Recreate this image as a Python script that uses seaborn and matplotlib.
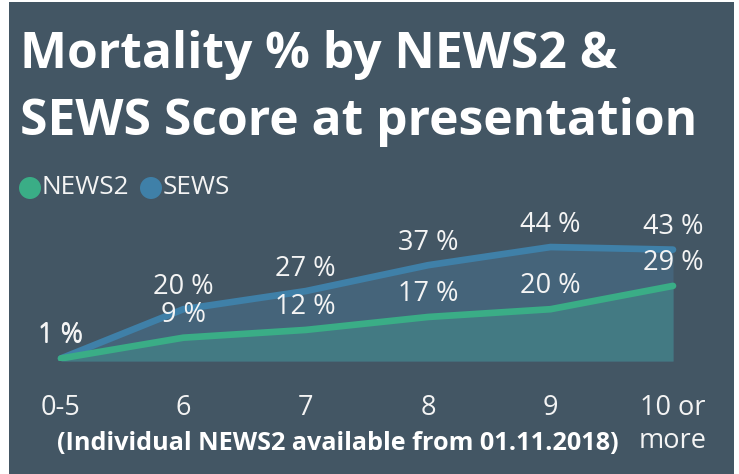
import matplotlib
matplotlib.use("Agg")
import matplotlib.pyplot as plt
import seaborn as sns
import pandas as pd
from matplotlib.patches import Rectangle, Ellipse

categories = ["0-5", "6", "7", "8", "9", "10 or\nmore"]
news2 = [1, 9, 12, 17, 20, 29]
sews = [1, 20, 27, 37, 44, 43]

title_lines = ["Mortality % by NEWS2 &", "SEWS Score at presentation"]
note = "(Individual NEWS2 available from 01.11.2018)"

BG = "#435664"
GREEN = "#3aad86"
BLUE = "#3f80a8"
SEWS_FILL = "#45647a"
NEWS_FILL = "#437a83"
TXT = "#f4f4f4"
FONT = ["Open Sans", "DejaVu Sans"]

sns.set_theme(style="white")
plt.rcParams["font.family"] = FONT

W, H = 739, 474
fig = plt.figure(figsize=(W / 100, H / 100), dpi=100)
fig.patch.set_facecolor("white")
fig.patches.append(Rectangle((9 / W, 0), (734 - 9) / W, (H - 2) / H,
                             transform=fig.transFigure, facecolor=BG,
                             edgecolor="none", zorder=-5))

# axes: baseline at y=361px, 2.59 px per % ; x=0 at 61px, spacing 122.4px
base_px, top_px = 361, 200
scale = 2.59
ax = fig.add_axes([0, (H - base_px) / H, 1, (base_px - top_px) / H])
ax.patch.set_alpha(0)
ax.set_zorder(2)
step = 122.4
ax.set_xlim(-61 / step, 5 + (W - 673) / step)
ax.set_ylim(0, (base_px - top_px) / scale)

df = pd.DataFrame({"x": list(range(len(categories))) * 2,
                   "val": sews + news2,
                   "series": ["SEWS"] * len(sews) + ["NEWS2"] * len(news2)})

x = list(range(len(categories)))
ax.fill_between(x, sews, 0, color=SEWS_FILL, lw=0, zorder=1)
ax.fill_between(x, news2, 0, color=NEWS_FILL, lw=0, zorder=2)
sns.lineplot(data=df, x="x", y="val", hue="series",
             palette={"SEWS": BLUE, "NEWS2": GREEN},
             hue_order=["SEWS", "NEWS2"], linewidth=4.8, ax=ax,
             legend=False, solid_capstyle="round", solid_joinstyle="round",
             zorder=3)
for ln in ax.lines:
    ln.set_solid_capstyle("round")

LBL = 19.5
for xi, v in zip(x, sews):
    ax.annotate(f"{v} %", (xi, v), xytext=(0, 16), textcoords="offset points",
                ha="center", va="center", color=TXT, fontsize=LBL, zorder=5,
                annotation_clip=False)
for xi, v in zip(x, news2):
    ax.annotate(f"{v} %", (xi, v), xytext=(0, 16.5), textcoords="offset points",
                ha="center", va="center", color=TXT, fontsize=LBL, zorder=5,
                annotation_clip=False)

ax.set_xticks(x)
ax.set_xticklabels(categories, color=TXT, fontsize=LBL, linespacing=1.2)
ax.tick_params(axis="x", length=0, pad=24)
ax.set_yticks([])
ax.set_xlabel("")
ax.set_ylabel("")
for s in ax.spines.values():
    s.set_visible(False)

fig.text(20 / W, 1 - 68 / H, title_lines[0], ha="left", va="baseline",
         color="white", fontsize=35.8, fontweight="bold")
fig.text(20 / W, 1 - 135 / H, title_lines[1], ha="left", va="baseline",
         color="white", fontsize=35.8, fontweight="bold")

# legend
ly = 1 - 188 / H
for cx, col, lab in [(30, GREEN, "NEWS2"), (151, BLUE, "SEWS")]:
    fig.patches.append(Ellipse((cx / W, ly), 22 / W, 22 / H,
                               transform=fig.transFigure,
                               facecolor=col, edgecolor="none"))
    fig.text((cx + 12) / W, ly, lab, ha="left", va="center", color=TXT,
             fontsize=18.8)

fig.text(338 / W, 1 - 443 / H, note, ha="center", va="center", color="white",
         fontsize=18.2, fontweight="bold")

fig.savefig("out.png", dpi=100, facecolor=fig.get_facecolor())
